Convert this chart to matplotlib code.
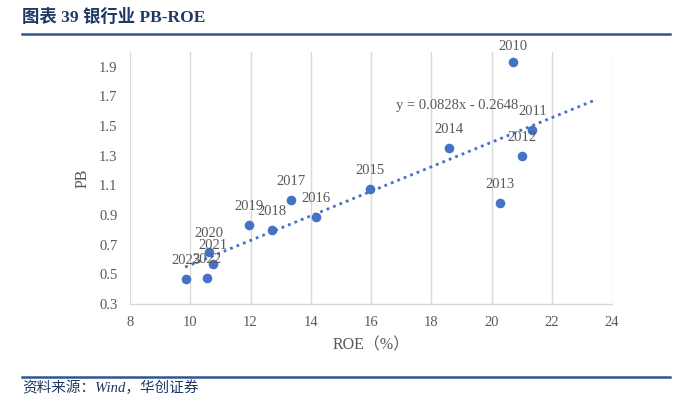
import matplotlib
matplotlib.use("Agg")
import matplotlib.pyplot as plt
from matplotlib.lines import Line2D

years = ["2010", "2011", "2012", "2013", "2014", "2015", "2016", "2017",
         "2018", "2019", "2020", "2021", "2022", "2023"]
roe = [20.72, 21.36, 21.00, 20.29, 18.60, 15.97, 14.18, 13.35,
       12.72, 11.95, 10.62, 10.76, 10.56, 9.86]
pb = [1.93, 1.475, 1.30, 0.98, 1.353, 1.077, 0.887, 1.00,
      0.80, 0.833, 0.651, 0.57, 0.476, 0.469]
slope, intercept = 0.0828, -0.2648
trend_x = [9.83, 23.38]
x_ticks = [8, 10, 12, 14, 16, 18, 20, 22, 24]
y_ticks = [0.3, 0.5, 0.7, 0.9, 1.1, 1.3, 1.5, 1.7, 1.9]

W, H = 681, 395
fig = plt.figure(figsize=(W / 100, H / 100), dpi=100)
serif = ["Liberation Serif", "Noto Sans CJK SC"]
grey = "#595959"
navy = "#1F3864"

ax = fig.add_axes([130 / W, 1 - 304 / H, (612 - 130) / W, (304 - 52) / H])
ax.set_xlim(8, 24)
ax.set_ylim(0.3, 2.0)
ax.set_xticks(x_ticks)
ax.set_yticks(y_ticks)
ax.set_xticklabels([str(v) for v in x_ticks], family=serif, color=grey, fontsize=10.5)
ax.set_yticklabels([f"{v:.1f}" for v in y_ticks], family=serif, color=grey, fontsize=10.5)
ax.tick_params(length=0, pad=9)
ax.grid(axis="x", color="#D9D9D9", linewidth=1)
ax.set_axisbelow(True)
for s in ["top", "right", "left"]:
    ax.spines[s].set_visible(False)
ax.spines["bottom"].set_color("#D9D9D9")
ax.spines["bottom"].set_linewidth(1)

# trendline
ty = [slope * x + intercept for x in trend_x]
ax.plot(trend_x, ty, color="#4472C4", linewidth=2, linestyle=(0, (1, 1.5)), zorder=2)
ax.text(18.85, 1.637, f"y = {slope}x - {abs(intercept)}", family=serif, color=grey,
        fontsize=10.5, ha="center", va="center")

ax.scatter(roe, pb, s=48, color="#4472C4", zorder=3, linewidths=0)
for yr, x, y in zip(years, roe, pb):
    dy = 16 if yr == "2010" else 18.5
    ax.annotate(yr, (x, y), xytext=(0, dy), textcoords="offset pixels",
                ha="center", va="center", family=serif, color=grey, fontsize=10.5,
                annotation_clip=False)

ax.set_ylabel("PB", family=serif, color=grey, fontsize=11.5, labelpad=6)
ax.set_xlabel("ROE（%）", family=serif, color=grey, fontsize=11.5, labelpad=6)

# header / footer
fig.text(22 / W, 1 - 17 / H, "图表 39 银行业 PB-ROE", family=serif, fontweight="bold",
         color=navy, fontsize=12.5, ha="left", va="center")
fig.add_artist(Line2D([22 / W, 670 / W], [1 - 34 / H, 1 - 34 / H], color="#2F5597",
                      linewidth=1.8, transform=fig.transFigure))
fig.add_artist(Line2D([22 / W, 670 / W], [1 - 377 / H, 1 - 377 / H], color="#2F5597",
                      linewidth=1.8, transform=fig.transFigure))
fig.text(22 / W, 1 - 388 / H, "资料来源：Wind，华创证券", family=serif, style="italic",
         color=navy, fontsize=10.5, ha="left", va="center")

fig.savefig("out.png", dpi=100)
